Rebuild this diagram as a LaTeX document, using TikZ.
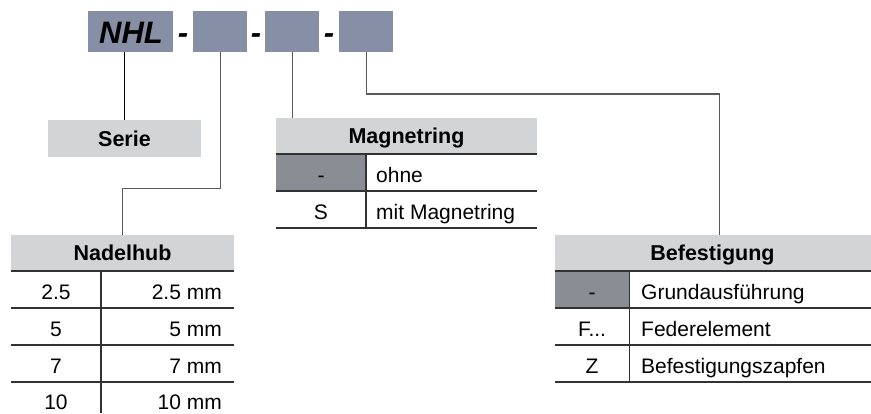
\documentclass[tikz,border=0pt]{standalone}
\usepackage{fontspec}
\setmainfont{Liberation Sans}
\definecolor{slate}{RGB}{134,143,166}
\definecolor{hdrgray}{RGB}{211,212,214}
\definecolor{cellgray}{RGB}{139,141,148}
\definecolor{connc}{RGB}{90,90,90}
\definecolor{rulec}{RGB}{50,50,50}
\tikzset{
  codebox/.style={fill=slate, inner sep=0pt, anchor=north west, minimum height=41pt},
  bigtxt/.style={font=\fontsize{31}{34}\selectfont\bfseries\itshape, inner sep=0pt, anchor=base},
  hdr/.style={fill=hdrgray, inner sep=0pt, anchor=north west, minimum height=36pt},
  hdrtxt/.style={font=\fontsize{21.5}{25}\selectfont\bfseries, inner sep=0pt, anchor=base},
  darkcell/.style={fill=cellgray, inner sep=0pt, anchor=north west, minimum height=37pt},
  txt/.style={font=\fontsize{21}{25}\selectfont, inner sep=0pt, anchor=base},
  conn/.style={draw=connc, line width=1.2pt},
  tabrule/.style={draw=rulec, line width=1.2pt}
}
\begin{document}
\begin{tikzpicture}[x=1pt,y=-1pt]
\useasboundingbox (0,0) rectangle (871,413);
% code boxes
\node[codebox, minimum width=85pt] (nhl) at (88,11) {};
\node[bigtxt] (nhlt) at (131,43) {NHL};
\node[codebox, minimum width=54pt] (b2) at (193,11) {};
\node[codebox, minimum width=54pt] (b3) at (265,11) {};
\node[codebox, minimum width=54pt] (b4) at (339,11) {};
\node[bigtxt] (d1) at (183,43.5) {-};
\node[bigtxt] (d2) at (256,43.5) {-};
\node[bigtxt] (d3) at (329,43.5) {-};
% Serie
\node[hdr, minimum width=153pt, minimum height=37pt] (serie) at (48,120) {};
\node[hdrtxt] (serietxt) at (124.5,146) {Serie};
% Nadelhub table
\node[hdr, minimum width=223pt] (nadel) at (11,235) {};
\node[hdrtxt] (nadelt) at (122.5,260.5) {Nadelhub};
\coordinate (n0) at (11,271); \coordinate (n0e) at (234,271);
\coordinate (n1) at (11,308); \coordinate (n1e) at (234,308);
\coordinate (n2) at (11,345); \coordinate (n2e) at (234,345);
\coordinate (n3) at (11,382); \coordinate (n3e) at (234,382);
\coordinate (nd0) at (101,271); \coordinate (nd1) at (101,413);
\draw[tabrule] (n0) -- (n0e) (n1) -- (n1e) (n2) -- (n2e) (n3) -- (n3e) (nd0) -- (nd1);
\node[txt] (na1) at (56,299.5) {2.5};
\node[txt, anchor=base east] (nb1) at (222,299.5) {2.5 mm};
\node[txt] (na2) at (56,336.5) {5};
\node[txt, anchor=base east] (nb2) at (222,336.5) {5 mm};
\node[txt] (na3) at (56,373.5) {7};
\node[txt, anchor=base east] (nb3) at (222,373.5) {7 mm};
\node[txt] (na4) at (56,409) {10};
\node[txt, anchor=base east] (nb4) at (222,409) {10 mm};
% Magnetring table
\node[hdr, minimum width=261pt] (magnet) at (276,118) {};
\node[hdrtxt] (magnett) at (406.5,143.5) {Magnetring};
\node[darkcell, minimum width=90pt] (mdark) at (276,154) {};
\coordinate (m0) at (276,154); \coordinate (m0e) at (537,154);
\coordinate (m1) at (276,191); \coordinate (m1e) at (537,191);
\coordinate (m2) at (276,228); \coordinate (m2e) at (537,228);
\coordinate (md0) at (366,154); \coordinate (md1) at (366,228);
\draw[tabrule] (m0) -- (m0e) (m1) -- (m1e) (m2) -- (m2e) (md0) -- (md1);
\node[txt] (ma1) at (321,182.5) {-};
\node[txt, anchor=base west] (mb1) at (376,182.5) {ohne};
\node[txt] (ma2) at (321,219.5) {S};
\node[txt, anchor=base west] (mb2) at (376,219.5) {mit Magnetring};
% Befestigung table
\node[hdr, minimum width=316pt] (befest) at (555,235) {};
\node[hdrtxt] (befestt) at (712.5,260.5) {Befestigung};
\node[darkcell, minimum width=74.5pt] (bdark) at (555,271) {};
\coordinate (f0) at (555,271); \coordinate (f0e) at (871,271);
\coordinate (f1) at (555,308); \coordinate (f1e) at (871,308);
\coordinate (f2) at (555,345); \coordinate (f2e) at (871,345);
\coordinate (f3) at (555,382); \coordinate (f3e) at (871,382);
\coordinate (fd0) at (629.5,271); \coordinate (fd1) at (629.5,382);
\draw[tabrule] (f0) -- (f0e) (f1) -- (f1e) (f2) -- (f2e) (f3) -- (f3e) (fd0) -- (fd1);
\node[txt] (fa1) at (592,299.5) {-};
\node[txt, anchor=base west] (fb1) at (641,299.5) {Grundausführung};
\node[txt] (fa2) at (592,336.5) {F...};
\node[txt, anchor=base west] (fb2) at (641,336.5) {Federelement};
\node[txt] (fa3) at (592,373.5) {Z};
\node[txt, anchor=base west] (fb3) at (641,373.5) {Befestigungszapfen};
% connectors
\draw[draw=black, line width=1pt] (nhl.south) ++(-6,0) coordinate (c0) -- (c0 |- serie.north);
\draw[conn] (b2.south) -- ++(0,136) -| (nadel.north);
\draw[conn] (b3.south) -- (b3.south |- magnet.north);
\draw[conn] (b4.south) -- ++(0,41.5) -| ([xshift=6pt]befest.north);
\end{tikzpicture}
\end{document}
